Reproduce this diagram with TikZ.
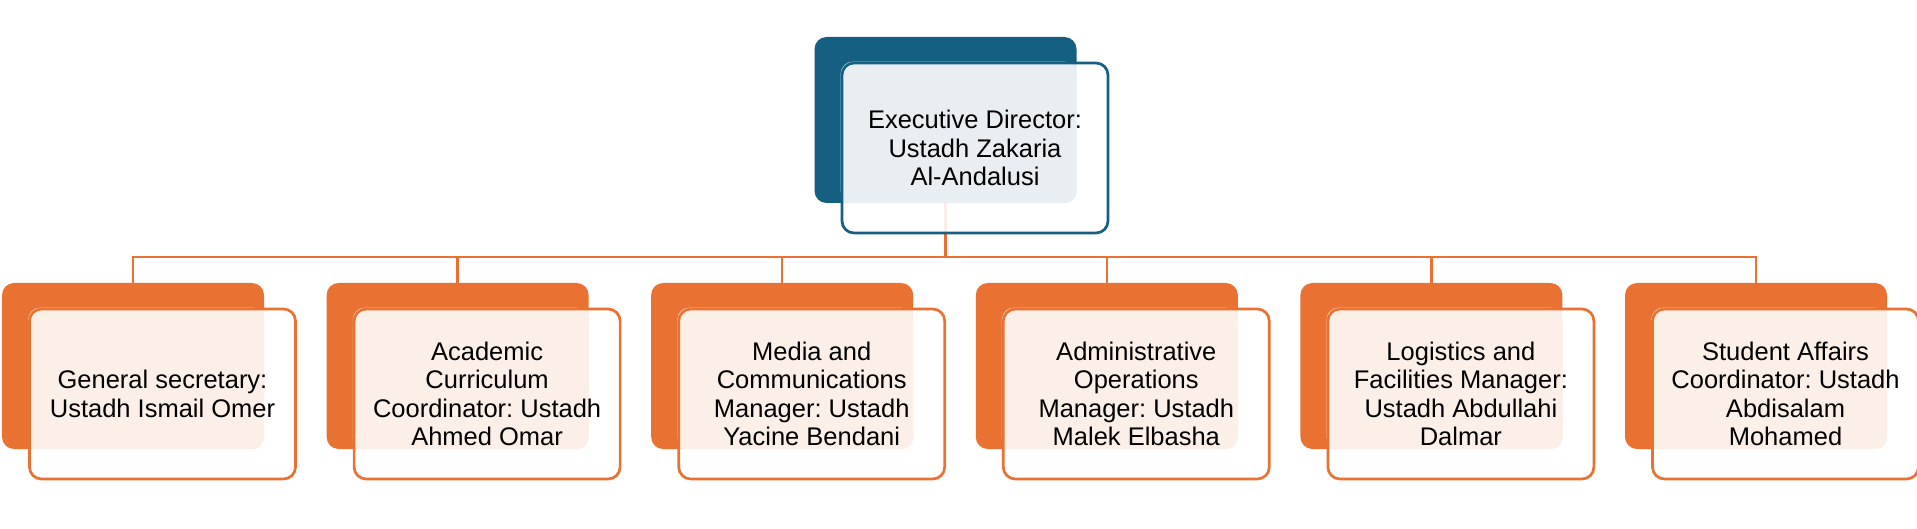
\documentclass[tikz,border=0pt]{standalone}
\usepackage{fontspec}
\setmainfont{Liberation Sans}
\usetikzlibrary{calc}
\definecolor{accblue}{HTML}{156082}
\definecolor{accorange}{HTML}{E97132}
\definecolor{lightblue}{HTML}{E8EEF2}
\definecolor{lightorange}{HTML}{FCEFE7}
\pgfdeclarelayer{background}
\pgfsetlayers{background,main}
\tikzset{
  backbox/.style={rectangle, rounded corners=12pt, minimum width=262pt, minimum height=166pt, inner sep=0pt, draw=none},
  frontbox/.style={rectangle, rounded corners=12pt, minimum width=266pt, minimum height=170pt, inner sep=0pt, fill=white, fill opacity=0.88, line width=2.7pt},
  txt/.style={align=center, font=\fontsize{25.5}{28.5}\selectfont\frenchspacing, text=black, inner sep=0pt},
  conn/.style={draw=accorange, line width=2.5pt},
}
\newcommand{\orgunit}[6]{%
  % #1 name, #2 x, #3 y, #4 main colour, #5 light colour, #6 text
  \node[backbox, fill=#4] (#1b) at (#2,#3) {};
  \node[frontbox] (#1f) at ($(#1b.center)+(29.5,28)$) {};
  \fill[#5, rounded corners=12pt] (#1f.north west) rectangle (#1b.south east);
  \node[frontbox, fill=none, draw=#4] at (#1f.center) {};
  \node[txt] (#1t) at (#1f.center) {#6};
}
\begin{document}
\frenchspacing
\begin{tikzpicture}[x=1pt, y=-1pt]
\useasboundingbox (0,0) rectangle (1917,529);
\orgunit{top}{945.5}{120}{accblue}{lightblue}{Executive Director:\\Ustadh Zakaria\\Al-Andalusi}
\orgunit{ca}{133}{366}{accorange}{lightorange}{General secretary:\\Ustadh Ismail Omer}
\orgunit{cb}{457.6}{366}{accorange}{lightorange}{Academic\\Curriculum\\Coordinator: Ustadh\\Ahmed Omar}
\orgunit{cc}{782.2}{366}{accorange}{lightorange}{Media and\\Communications\\Manager: Ustadh\\Yacine Bendani}
\orgunit{cd}{1106.8}{366}{accorange}{lightorange}{Administrative\\Operations\\Manager: Ustadh\\Malek Elbasha}
\orgunit{ce}{1431.4}{366}{accorange}{lightorange}{Logistics and\\Facilities Manager:\\Ustadh Abdullahi\\Dalmar}
\orgunit{cf}{1756}{366}{accorange}{lightorange}{Student Affairs\\Coordinator: Ustadh\\Abdisalam\\Mohamed}
\coordinate (hbar) at (945.5,257);
\begin{pgfonlayer}{background}
\draw[conn] (topb.south) -- (topb.south |- hbar);
\draw[conn] (cab.north) -- (cab.north |- hbar) -- (cfb.north |- hbar) -- (cfb.north);
\foreach \n in {cb,cc,cd,ce} {
  \draw[conn] (\n b.north) -- (\n b.north |- hbar);
}
\end{pgfonlayer}
\end{tikzpicture}
\end{document}
